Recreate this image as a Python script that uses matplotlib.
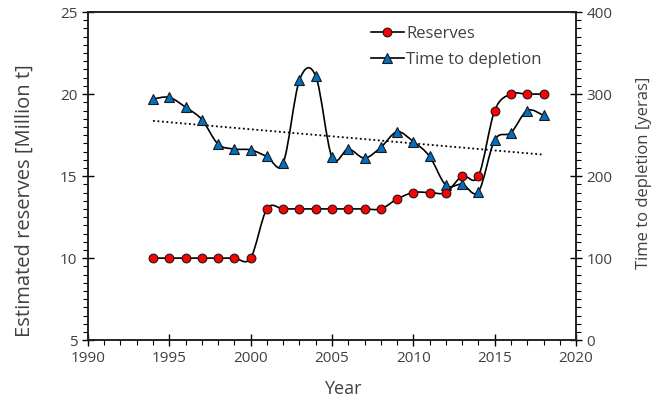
import numpy as np
import matplotlib.pyplot as plt
from matplotlib.path import Path
from matplotlib.patches import PathPatch
from matplotlib.lines import Line2D
from matplotlib.ticker import MultipleLocator

# data
years = list(range(1994, 2019))
reserves = [10, 10, 10, 10, 10, 10, 10,
            13, 13, 13, 13, 13, 13, 13, 13,
            13.6, 14, 14, 14, 15, 15, 19, 20, 20, 20]
depletion = [294, 296, 284, 269, 239, 233, 232, 224, 216, 317, 322,
             223, 233, 222, 235, 254, 242, 224, 189, 190, 181,
             244, 253, 280, 274]

plt.rcParams['font.family'] = ['Open Sans', 'DejaVu Sans']
TXT = '#404040'


def smooth_path(x, y):
    # Excel-style smoothed line: cubic bezier through each point
    x = np.asarray(x, float)
    y = np.asarray(y, float)
    n = len(x)
    verts = [(x[0], y[0])]
    codes = [Path.MOVETO]
    for i in range(n - 1):
        i0 = max(i - 1, 0)
        i3 = min(i + 2, n - 1)
        c1 = (x[i] + (x[i + 1] - x[i0]) / 6, y[i] + (y[i + 1] - y[i0]) / 6)
        c2 = (x[i + 1] - (x[i3] - x[i]) / 6, y[i + 1] - (y[i3] - y[i]) / 6)
        verts += [c1, c2, (x[i + 1], y[i + 1])]
        codes += [Path.CURVE4] * 3
    return Path(verts, codes)


fig = plt.figure(figsize=(6.66, 4.03), dpi=100)
ax = fig.add_axes([0.132, 0.156, 0.733, 0.814])
ax2 = ax.twinx()

# time to depletion (right axis)
ax2.add_patch(PathPatch(smooth_path(years, depletion), fill=False, lw=1.2, ec='black', zorder=2))
ax2.plot(years, depletion, ls='none', marker='^', ms=7.5, mfc='#0070C0', mec='#1a1a1a', mew=0.8, zorder=3)
k, b = np.polyfit(years, depletion, 1)
ax2.plot([years[0], years[-1]], [k * years[0] + b, k * years[-1] + b],
         color='black', lw=1.3, ls=(0, (1, 1.5)), zorder=2)

# reserves (left axis) drawn on top
ax.set_zorder(ax2.get_zorder() + 1)
ax.patch.set_visible(False)
ax.add_patch(PathPatch(smooth_path(years, reserves), fill=False, lw=1.2, ec='black', zorder=2))
ax.plot(years, reserves, ls='none', marker='o', ms=6.3, mfc='#FF0000', mec='#1a1a1a', mew=0.8, zorder=3)

ax.set_xlim(1990, 2020)
ax.set_ylim(5, 25)
ax2.set_ylim(0, 400)
ax.xaxis.set_major_locator(MultipleLocator(5))
ax.xaxis.set_minor_locator(MultipleLocator(1))
ax.yaxis.set_major_locator(MultipleLocator(5))
ax.yaxis.set_minor_locator(MultipleLocator(0.5))
ax2.yaxis.set_major_locator(MultipleLocator(100))
ax2.yaxis.set_minor_locator(MultipleLocator(10))

for a in (ax, ax2):
    a.tick_params(which='major', direction='inout', length=8, width=1, colors='black',
                  labelcolor=TXT, labelsize=11)
    a.tick_params(which='minor', direction='out', length=3.5, width=0.8, colors='black')
    for s in a.spines.values():
        s.set_color('#222222')
        s.set_linewidth(1.2)

ax.set_xlabel('Year', fontsize=13, color=TXT)
ax.set_ylabel('Estimated reserves [Million t]', fontsize=14.5, color=TXT)
ax2.set_ylabel('Time to depletion [yeras]', fontsize=12, color=TXT)
ax.xaxis.set_label_coords(0.522, -0.122)
ax.yaxis.set_label_coords(-0.108, 0.424)
ax2.yaxis.set_label_coords(1.123, 0.509)

handles = [
    Line2D([], [], color='black', lw=1.2, marker='o', ms=6.3, mfc='#FF0000', mec='#1a1a1a', mew=0.8),
    Line2D([], [], color='black', lw=1.2, marker='^', ms=7.5, mfc='#0070C0', mec='#1a1a1a', mew=0.8),
]
leg = ax.legend(handles, ['Reserves', 'Time to depletion'], loc='upper left',
                bbox_to_anchor=(0.55, 1.0), frameon=False, fontsize=12,
                handlelength=2.0, handletextpad=0.15, labelspacing=0.6, borderaxespad=0.45)
for t in leg.get_texts():
    t.set_color(TXT)

fig.savefig('out.png', dpi=100)
